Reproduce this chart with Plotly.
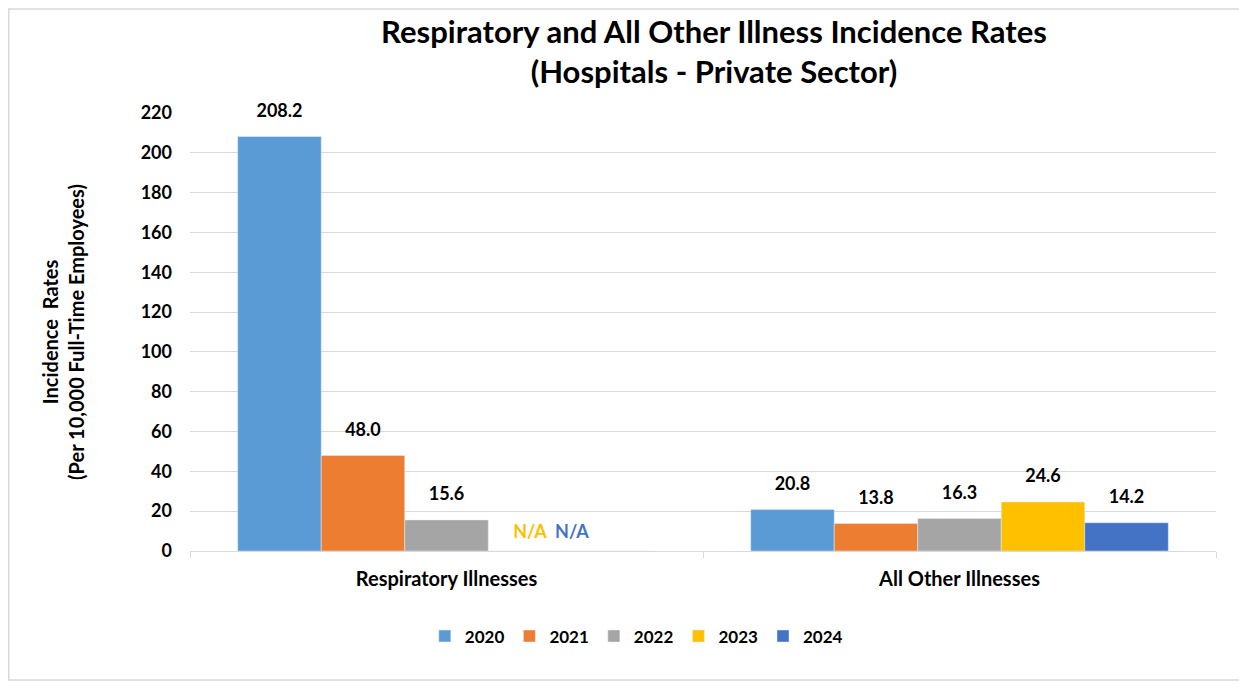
import plotly.graph_objects as go

categories = ["Respiratory Illnesses", "All Other Illnesses"]
years = ["2020", "2021", "2022", "2023", "2024"]
rate_2020 = [208.2, 20.8]
rate_2021 = [48.0, 13.8]
rate_2022 = [15.6, 16.3]
rate_2023 = [None, 24.6]
rate_2024 = [None, 14.2]
colors = ["#5B9BD5", "#ED7D31", "#A5A5A5", "#FFC000", "#4472C4"]

font_family = "Lato, 'Open Sans', sans-serif"
na_level = 9  # where the "N/A" notes sit (axis units)

fig = go.Figure()
series = [rate_2020, rate_2021, rate_2022, rate_2023, rate_2024]
for year, vals, col in zip(years, series, colors):
    fig.add_trace(go.Bar(
        name=year, x=categories, y=[v if v is not None else 0 for v in vals],
        marker_color=col, offsetgroup=year,
    ))
# labels as grouped text traces so they line up with the bars;
# an invisible marker pushes the value text up off the bar top
for i, (year, vals, col) in enumerate(zip(years, series, colors)):
    last = i == len(years) - 1
    fig.add_trace(go.Scatter(
        x=categories,
        y=[v if v is not None else na_level for v in vals],
        text=[f"{v:.1f}" if v is not None else "N/A" for v in vals],
        mode="markers+text", offsetgroup=year, cliponaxis=False,
        textposition=["top center" if v is not None else ("middle left" if last else "middle center")
                      for v in vals],
        marker=dict(size=[23 if v is not None else 38 for v in vals], opacity=0),
        textfont=dict(color=["#000000" if v is not None else col for v in vals],
                      size=18, family=font_family, weight="bold"),
        showlegend=False, hoverinfo="skip",
    ))

W, H = 1239, 676  # page body adds an 8px margin
fig.update_layout(
    width=W, height=H,
    barmode="group", bargap=0.186, bargroupgap=0,
    scattermode="group", scattergap=0.186,
    plot_bgcolor="white", paper_bgcolor="white",
    font=dict(family=font_family, color="#000000"),
    margin=dict(l=182, r=31, t=105, b=133),
    title=dict(
        text="<b>Respiratory and All Other Illness Incidence Rates<br>(Hospitals - Private Sector)</b>",
        x=0.5698, xanchor="center", yref="container", y=0.948, yanchor="top",
        font=dict(size=31, family=font_family, color="#000000"),
    ),
    legend=dict(orientation="h", x=0.435, xanchor="center", y=-0.154, yanchor="top",
                font=dict(size=17, family=font_family, weight="bold"),
                traceorder="normal"),
    showlegend=True,
)
fig.update_yaxes(
    range=[0, 220], dtick=20, showgrid=True, gridcolor="#D9D9D9", gridwidth=1,
    zeroline=False, ticks="", ticklabelstandoff=17, automargin=False,
    tickfont=dict(size=18, family=font_family, weight="bold"),
    title=dict(text="<b>Incidence  Rates<br>(Per 10,000 Full-Time Employees)</b>",
               font=dict(size=20, family=font_family), standoff=50),
)
fig.update_xaxes(
    showline=True, linecolor="#D9D9D9", linewidth=1, ticks="outside", tickson="boundaries",
    ticklen=6, tickcolor="#D9D9D9", ticklabelstandoff=10, automargin=False,
    tickfont=dict(size=20, family=font_family, weight="bold"),
)
# light border round the whole chart
fig.add_shape(type="rect", xref="paper", yref="paper",
              x0=(0.75 - 182) / 1026, x1=(1238 - 182) / 1026, y0=-129 / 438, y1=542 / 438,
              line=dict(color="#D9D9D9", width=1.5), fillcolor="rgba(0,0,0,0)")

fig.write_html("out.html")
